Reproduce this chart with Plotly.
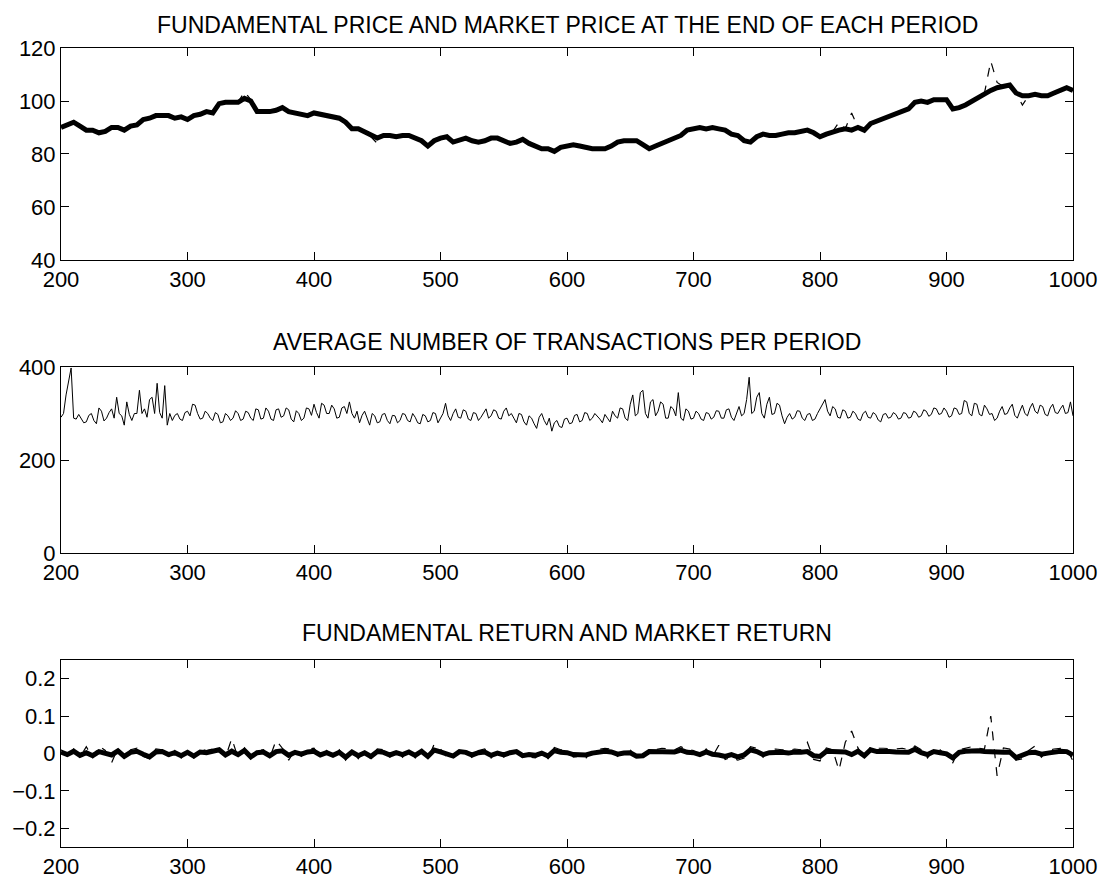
import plotly.graph_objects as go
from plotly.subplots import make_subplots

# periods: every 5 for prices/returns, every 2 for transactions
periods5 = list(range(200, 1001, 5))
periods2 = list(range(200, 1001, 2))

fund_price = [
    90, 91, 92, 90.5, 89, 89, 88, 88.5, 90, 90,
    89, 90.5, 91, 93, 93.5, 94.5, 94.5, 94.5, 93.5, 94,
    93, 94.5, 95, 96, 95.5, 99, 99.5, 99.5, 99.5, 101,
    100, 96, 96, 96, 96.5, 97.5, 96, 95.5, 95, 94.5,
    95.5, 95, 94.5, 94, 93.5, 92, 89.5, 89.5, 88.5, 87,
    86, 87, 87, 86.5, 87, 87, 86, 85, 83, 85,
    86, 86.5, 84.5, 85.5, 86, 85, 84.5, 85, 86, 86,
    85, 84, 84.5, 85.5, 84, 83, 82, 82, 81, 82.5,
    83, 83.5, 83, 82.5, 82, 82, 82, 83, 84.5, 85,
    85, 85, 83.5, 82, 83, 84, 85, 86, 87, 89,
    89.5, 90, 89.5, 90, 89.5, 89, 87.5, 87, 85, 84.5,
    86.5, 87.5, 87, 87, 87.5, 88, 88, 88.5, 89, 88,
    86.5, 87.5, 88.5, 89, 89.5, 89, 90, 89, 91.5, 92.5,
    93.5, 94.5, 95.5, 96.5, 97, 99.5, 100, 99.5, 100.5, 100.5,
    100.5, 97, 97.5, 98.5, 100, 101.5, 102.5, 104, 105, 105.5,
    106, 103, 102, 102, 102.5, 102, 102, 103, 104, 105,
    104,
]

market_price = [
    90.5, 91, 92.5, 90.5, 89, 89.5, 88, 88.5, 90.5, 90,
    89, 90.5, 91.5, 93, 93.5, 95, 94.5, 94.5, 93.5, 94,
    93, 94.5, 95, 96.5, 95.5, 99, 99.5, 100, 99.5, 103.5,
    100.5, 96, 95.5, 96, 96.5, 98, 96, 95.5, 95, 94.5,
    95.5, 95, 94.5, 94, 93, 92, 89, 89.5, 88.5, 86.5,
    84, 87, 87, 86.5, 87, 87, 86, 85, 83, 85,
    86, 86.5, 84.5, 85.5, 86, 85, 84.5, 85, 86, 86,
    85, 84, 84.5, 85.5, 84, 83, 82, 82, 81, 82.5,
    83, 83.5, 83, 82.5, 82, 82, 82, 83, 84.5, 85,
    85, 85, 83.5, 82, 83, 84, 85, 86, 87, 89,
    89.5, 90, 89.5, 90, 89.5, 89, 87.5, 87, 85, 84.5,
    86.5, 87.5, 87, 87, 87.5, 88, 88, 88.5, 89, 88,
    86.5, 87.5, 88.5, 92, 89.5, 95.5, 90, 89, 91.5, 92.5,
    93.5, 94.5, 95.5, 96.5, 97, 99.5, 100, 99.5, 100.5, 100.5,
    100.5, 97, 97.5, 98.5, 100, 101.5, 103, 115, 107, 105.5,
    106, 103, 98.5, 102, 102.5, 102, 102, 103, 104, 105,
    104,
]

transactions = [
    292, 300, 340, 372, 398, 290, 288, 298, 290, 280,
    282, 296, 300, 285, 278, 312, 305, 284, 290, 302,
    310, 290, 335, 300, 295, 275, 325, 298, 285, 300,
    300, 350, 300, 310, 292, 330, 335, 300, 365, 302,
    290, 360, 275, 300, 285, 296, 300, 288, 285, 302,
    305, 295, 320, 318, 300, 288, 290, 305, 300, 290,
    285, 302, 298, 280, 282, 300, 295, 285, 290, 306,
    300, 285, 288, 305, 302, 290, 285, 310, 308, 288,
    290, 312, 305, 288, 285, 308, 310, 292, 295, 312,
    308, 288, 282, 306, 300, 285, 290, 312, 310, 296,
    320, 302, 290, 322, 318, 300, 300, 318, 310, 290,
    292, 312, 315, 300, 325, 300, 290, 305, 280, 296,
    305, 288, 275, 300, 295, 280, 282, 298, 300, 285,
    278, 296, 295, 280, 285, 300, 298, 285, 282, 300,
    292, 280, 278, 298, 295, 282, 285, 302, 300, 280,
    290, 300, 322, 295, 285, 300, 310, 292, 290, 308,
    305, 288, 285, 302, 300, 285, 292, 300, 310, 290,
    295, 308, 305, 290, 288, 305, 312, 295, 300, 290,
    280, 300, 298, 282, 275, 295, 290, 278, 268, 292,
    300, 285, 275, 290, 262, 280, 285, 272, 270, 288,
    290, 278, 280, 296, 298, 282, 285, 302, 300, 285,
    290, 300, 295, 288, 280, 298, 290, 282, 305, 295,
    290, 312, 310, 290, 285, 320, 340, 295, 300, 345,
    350, 300, 290, 325, 330, 295, 305, 325, 320, 290,
    290, 315, 310, 295, 345, 290, 285, 310, 305, 288,
    290, 305, 300, 288, 285, 302, 300, 288, 292, 306,
    305, 290, 290, 308, 310, 292, 285, 300, 315, 295,
    300, 330, 378, 300, 305, 335, 345, 300, 290, 320,
    335, 298, 300, 322, 318, 295, 278, 292, 300, 288,
    292, 306, 305, 290, 285, 298, 300, 285, 288, 300,
    310, 320, 330, 305, 295, 315, 310, 292, 290, 308,
    305, 290, 292, 305, 300, 288, 285, 300, 305, 292,
    290, 302, 298, 286, 282, 298, 300, 290, 292, 302,
    298, 288, 290, 302, 300, 290, 292, 305, 302, 292,
    295, 308, 305, 294, 298, 312, 310, 298, 300, 312,
    305, 292, 295, 312, 310, 298, 300, 328, 325, 300,
    295, 322, 320, 298, 295, 318, 310, 298, 300, 285,
    290, 305, 315, 298, 300, 312, 320, 296, 290, 305,
    318, 300, 295, 312, 322, 305, 300, 318, 315, 298,
    295, 312, 320, 302, 300, 310, 318, 300, 302, 325,
    295,
]

fund_return = [
    0.004, -0.003, 0.006, -0.005, 0.002, -0.006, 0.005, 0.001, -0.004, 0.007,
    -0.008, 0.003, 0.006, -0.002, -0.009, 0.004, 0.005, -0.003, 0.002, -0.006,
    0.003, -0.007, 0.004, 0.002, 0.005, 0.010, -0.004, 0.006, -0.003, 0.008,
    -0.009, 0.002, 0.004, -0.006, 0.005, 0.007, -0.005, 0.003, -0.002, 0.004,
    0.006, -0.004, 0.002, -0.005, 0.003, -0.010, 0.004, -0.006, 0.002, -0.008,
    0.005, 0.003, -0.004, 0.002, -0.003, 0.004, -0.005, 0.006, -0.008, 0.009,
    0.004, -0.003, -0.007, 0.005, 0.003, -0.004, 0.002, 0.004, -0.005, 0.001,
    -0.004, 0.002, 0.005, -0.006, -0.003, -0.005, 0.001, -0.007, 0.008, 0.003,
    0.002, -0.003, -0.002, -0.004, 0.001, 0.003, 0.006, 0.004, -0.002, 0.001,
    0.002, -0.007, -0.006, 0.005, 0.004, 0.006, 0.005, 0.004, 0.009, 0.003,
    0.002, -0.003, 0.004, -0.002, -0.004, -0.008, -0.003, -0.009, -0.004, 0.010,
    0.005, -0.003, 0.002, 0.004, 0.003, 0.001, 0.004, 0.003, 0.005, -0.006,
    -0.008, 0.006, 0.005, 0.003, 0.004, -0.003, 0.006, -0.006, 0.010, 0.005,
    0.006, 0.005, 0.004, 0.005, 0.003, 0.011, 0.002, -0.003, 0.005, 0.002,
    -0.001, -0.012, 0.003, 0.006, 0.008, 0.007, 0.005, 0.006, 0.004, 0.003,
    0.004, -0.011, -0.006, 0.002, 0.003, -0.002, 0.001, 0.004, 0.006, 0.005,
    -0.004,
]

market_return = [
    0.010, -0.008, 0.012, -0.010, 0.018, -0.012, 0.020, 0.008, -0.025, 0.015,
    -0.012, 0.010, 0.014, -0.008, -0.014, 0.012, 0.010, -0.010, 0.008, -0.012,
    0.010, -0.012, 0.012, 0.008, 0.012, 0.018, -0.010, 0.040, -0.012, 0.015,
    -0.015, 0.008, 0.010, -0.012, 0.035, 0.014, -0.018, 0.010, -0.008, 0.012,
    0.014, -0.010, 0.008, -0.012, 0.010, -0.018, 0.010, -0.014, 0.008, -0.015,
    0.012, 0.010, -0.010, 0.008, -0.010, 0.012, -0.012, 0.014, -0.015, 0.025,
    0.012, -0.010, -0.014, 0.012, 0.010, -0.012, 0.008, 0.012, -0.012, 0.006,
    -0.010, 0.008, 0.012, -0.012, -0.010, -0.012, 0.008, -0.014, 0.016, 0.010,
    0.008, -0.010, -0.008, -0.012, 0.008, 0.010, 0.014, 0.012, -0.008, 0.008,
    0.010, -0.014, -0.012, 0.012, 0.010, 0.014, 0.012, 0.010, 0.018, 0.010,
    0.008, -0.010, 0.012, -0.008, 0.022, -0.016, -0.010, -0.018, -0.012, 0.018,
    0.014, -0.010, 0.010, 0.012, 0.010, 0.008, 0.012, 0.010, 0.030, -0.016,
    -0.020, 0.015, 0.010, -0.045, 0.030, 0.060, 0.015, -0.014, 0.018, 0.014,
    0.014, 0.012, 0.012, 0.014, 0.010, 0.020, 0.010, -0.012, 0.012, 0.010,
    -0.008, -0.025, 0.010, 0.014, 0.018, 0.014, 0.012, 0.100, -0.060, 0.015,
    0.012, -0.018, -0.014, 0.008, 0.020, -0.010, 0.008, 0.012, 0.014, 0.012,
    -0.020,
]

titles = [
    "FUNDAMENTAL PRICE AND MARKET PRICE AT THE END OF EACH PERIOD",
    "AVERAGE NUMBER OF TRANSACTIONS PER PERIOD",
    "FUNDAMENTAL RETURN AND MARKET RETURN",
]

fig = make_subplots(rows=3, cols=1)

fig.add_trace(go.Scatter(x=periods5, y=market_price, mode="lines",
                         line=dict(color="black", width=1.2, dash="dash")), row=1, col=1)
fig.add_trace(go.Scatter(x=periods5, y=fund_price, mode="lines",
                         line=dict(color="black", width=5)), row=1, col=1)
fig.add_trace(go.Scatter(x=periods2, y=transactions, mode="lines",
                         line=dict(color="black", width=1)), row=2, col=1)
fig.add_trace(go.Scatter(x=periods5, y=market_return, mode="lines",
                         line=dict(color="black", width=1.2, dash="dash")), row=3, col=1)
fig.add_trace(go.Scatter(x=periods5, y=fund_return, mode="lines",
                         line=dict(color="black", width=5)), row=3, col=1)

font = dict(family="Liberation Sans, Arial, sans-serif", size=22, color="black")
axis_style = dict(showline=True, linecolor="black", linewidth=1, mirror="allticks",
                  ticks="inside", ticklen=8, tickcolor="black", showgrid=False,
                  zeroline=False, tickfont=font, automargin=False)

W, H = 1108, 881
domains = [[0.7049, 0.9455], [0.3723, 0.5834], [0.0386, 0.2509]]
yranges = [[40, 120], [0, 400], [-0.25, 0.25]]
yticks = [[40, 60, 80, 100, 120], [0, 200, 400], [-0.2, -0.1, 0, 0.1, 0.2]]
title_y = [1 - 25 / H, 1 - 342 / H, 1 - 633 / H]

for i in range(3):
    fig.update_xaxes(axis_style, range=[200, 1000], tickvals=list(range(200, 1001, 100)),
                     row=i + 1, col=1)
    fig.update_yaxes(axis_style, range=yranges[i], tickvals=yticks[i], domain=domains[i],
                     row=i + 1, col=1)
    fig.add_annotation(text=titles[i], x=0.5, y=title_y[i], xref="paper", yref="paper",
                       showarrow=False, font=dict(font, size=23), yanchor="middle")

fig.update_layout(template="none", width=W, height=H, showlegend=False,
                  margin=dict(l=61, r=35, t=0, b=0), plot_bgcolor="white",
                  paper_bgcolor="white", font=font)

# drop the page's default body margin so the figure fills the window exactly
fig.write_html("out.html", config={"displayModeBar": False},
               post_script="document.body.style.margin='0';")
